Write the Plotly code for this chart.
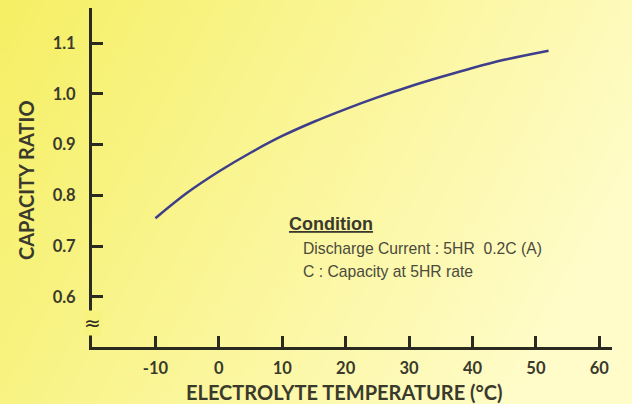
import base64, struct, zlib
import plotly.graph_objects as go

# ---- data ----
temperature = [-10, -5, 0, 5, 10, 15, 20, 25, 30, 35, 40, 45, 52]
capacity_ratio = [0.755, 0.805, 0.847, 0.884, 0.917, 0.945, 0.970, 0.993, 1.014, 1.033, 1.051, 1.067, 1.085]
x_ticks = [-10, 0, 10, 20, 30, 40, 50, 60]
x_tick_text = ["-10", "0", "10", "20", "30", "40", "50", "60"]
y_ticks = [0.6, 0.7, 0.8, 0.9, 1.0, 1.1]
y_tick_text = ["0.6", "0.7", "0.8", "0.9", "1.0", "1.1"]

W, H = 632, 404

# ---- gradient background as an inline PNG ----
def make_png(w, h):
    strong = (245, 239, 100)
    pale = (255, 252, 202)
    rows = []
    for j in range(h):
        v = j / (h - 1)
        row = bytearray([0])
        for i in range(w):
            u = i / (w - 1)
            t = min(1.0, 0.85 * u + 0.3 * v)
            row += bytes(int(round(s + (p - s) * t)) for s, p in zip(strong, pale))
        rows.append(bytes(row))
    raw = b"".join(rows)
    def chunk(tag, data):
        c = struct.pack(">I", len(data)) + tag + data
        return c + struct.pack(">I", zlib.crc32(tag + data) & 0xffffffff)
    png = b"\x89PNG\r\n\x1a\n" + chunk(b"IHDR", struct.pack(">IIBBBBB", w, h, 8, 2, 0, 0, 0))
    png += chunk(b"IDAT", zlib.compress(raw, 9)) + chunk(b"IEND", b"")
    return "data:image/png;base64," + base64.b64encode(png).decode()

bg = make_png(158, 101)

def px(x):
    return x / W

def py(y):
    return 1 - y / H

axis_color = "#2a2a20"
text_color = "#3a3a2c"
tick_font = dict(family="Lato", size=16.5, color=text_color, weight="bold")
title_font = dict(family="Lato", size=20, color=text_color, weight="bold")
note_font = dict(family="Liberation Sans", size=15.7, color="#4a4a3c")

fig = go.Figure()
fig.add_trace(go.Scatter(
    x=temperature, y=capacity_ratio, mode="lines",
    line=dict(color="#3e3e8a", width=2.5, shape="spline", smoothing=1.0),
    hoverinfo="skip", showlegend=False,
))

fig.update_layout(
    width=W, height=H,
    margin=dict(l=0, r=0, t=0, b=0),
    paper_bgcolor="#fbf59a",
    plot_bgcolor="rgba(0,0,0,0)",
    images=[dict(source=bg, xref="paper", yref="paper", x=0, y=1, sizex=1, sizey=1,
                 sizing="stretch", layer="below", xanchor="left", yanchor="top")],
    xaxis=dict(
        domain=[px(92), px(612)], range=[-20, 62],
        showline=True, linecolor=axis_color, linewidth=3,
        ticks="inside", ticklen=11, tickwidth=2.5, tickcolor=axis_color,
        tickvals=x_ticks, ticktext=x_tick_text, tickfont=tick_font, ticklabelstandoff=4,
        showgrid=False, zeroline=False,
    ),
    yaxis=dict(
        domain=[py(347), py(8)], range=[0.5015, 1.169],
        showline=True, linecolor=axis_color, linewidth=3,
        ticks="inside", ticklen=11, tickwidth=2.5, tickcolor=axis_color,
        tickvals=y_ticks, ticktext=y_tick_text, tickfont=tick_font, ticklabelstandoff=10,
        showgrid=False, zeroline=False,
    ),
    annotations=[
        dict(text="CAPACITY RATIO", x=px(26), y=py(180), xref="paper", yref="paper",
             xanchor="center", yanchor="middle", textangle=-90, showarrow=False,
             font=title_font),
        dict(text="ELECTROLYTE TEMPERATURE (°C)", x=px(344), y=py(392), xref="paper", yref="paper",
             xanchor="center", yanchor="middle", showarrow=False, font=title_font),
        dict(text="<u>Condition</u>", x=px(287), y=py(224), xref="paper", yref="paper",
             xanchor="left", yanchor="middle", showarrow=False,
             font=dict(family="Liberation Sans", size=18, color="#3a3a2c", weight="bold")),
        dict(text="Discharge Current : 5HR  0.2C (A)", x=px(301), y=py(248), xref="paper", yref="paper",
             xanchor="left", yanchor="middle", showarrow=False, font=note_font),
        dict(text="C : Capacity at 5HR rate", x=px(301), y=py(271), xref="paper", yref="paper",
             xanchor="left", yanchor="middle", showarrow=False, font=note_font),
        dict(text="≈", x=px(92), y=py(323), xref="paper", yref="paper",
             xanchor="center", yanchor="middle",
             showarrow=False, bgcolor="#f8f27e", borderpad=0,
             font=dict(family="DejaVu Sans", size=20, color=axis_color)),
    ],
)

fig.write_html("out.html", config={"displayModeBar": False},
               post_script="document.body.style.margin='0px';")
